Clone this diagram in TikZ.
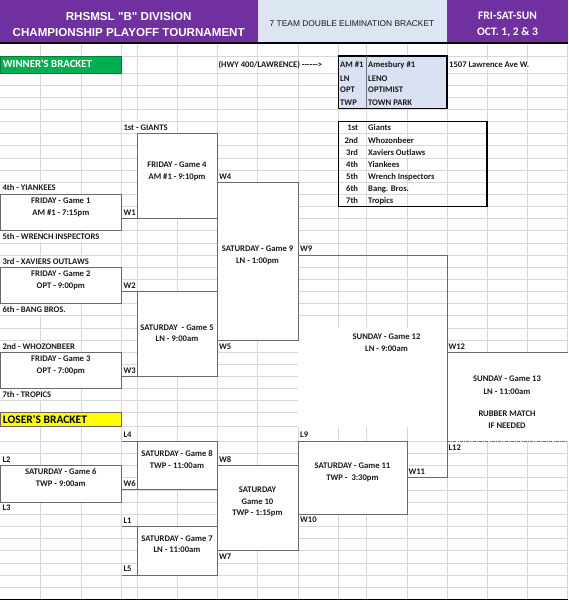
\documentclass[tikz,border=0pt]{standalone}
\usepackage{fontspec}
\setmainfont{Carlito}[Ligatures=TeXOff]
\newfontfamily\arialf{Liberation Sans}[Ligatures=TeXOff]
\definecolor{purp}{RGB}{112,48,160}
\definecolor{hblue}{RGB}{220,230,242}
\definecolor{vblue}{RGB}{217,225,242}
\definecolor{grn}{RGB}{0,176,80}
\definecolor{yel}{RGB}{255,255,0}
\definecolor{gridc}{RGB}{216,216,216}
\definecolor{boxc}{RGB}{105,105,105}
\definecolor{txtc}{RGB}{25,25,25}
\newcommand{\rT}[1]{133.6+12.14*(#1)}
\newcommand{\lT}[1]{441.3+12.15*(#1)}
\begin{document}
\begin{tikzpicture}[x=1pt,y=-1pt,
  gridln/.style={draw=gridc,line width=0.6pt},
  boxln/.style={draw=boxc,line width=0.9pt},
  cell/.style={inner sep=0pt,font=\bfseries\fontsize{8.6}{10}\selectfont,text=txtc,text height=7.5pt,text depth=2.2pt,fill=white},
  lab/.style={cell,anchor=west},
  ctr/.style={cell,anchor=center},
  plain/.style={inner sep=0pt,font=\bfseries\fontsize{8.6}{10}\selectfont,text=txtc,text height=5.5pt,text depth=0pt}
]
\useasboundingbox (0,0) rectangle (568,600);
\fill[white] (0,0) rectangle (568,600);
% grid
\foreach \x in {40.5,81,121.7,137,177,217,257.5,298,338.5,366,407,447,487,527,567}
  \draw[gridln] (\x,43) -- (\x,600);
\foreach \yy in {56,72.9,412.3,426.7}
  \draw[gridln] (0,\yy) -- (568,\yy);
\foreach \k in {-4,...,22}
  \draw[gridln] (0,{\rT{\k}}) -- (568,{\rT{\k}});
\foreach \k in {0,...,12}
  \draw[gridln] (0,{\lT{\k}}) -- (568,{\lT{\k}});
\draw[black,line width=1.2pt] (0,599.4) -- (568,599.4);
% header
\fill[purp] (0,0) rectangle (257.5,43);
\fill[hblue] (257.5,0) rectangle (447,43);
\fill[purp] (447,0) rectangle (568,43);
\draw[black,line width=1.3pt] (0,43) -- (568,43);
\node[font=\arialf\bfseries\fontsize{11.6}{14}\selectfont,text=white,inner sep=0pt,text height=8.3pt,text depth=0pt] (h1) at (128.7,16.3) {RHSMSL "B" DIVISION};
\node[font=\arialf\bfseries\fontsize{11.6}{14}\selectfont,text=white,inner sep=0pt,text height=8.3pt,text depth=0pt] (h2) at (128.7,31.9) {CHAMPIONSHIP PLAYOFF TOURNAMENT};
\node[font=\arialf\fontsize{8.4}{10}\selectfont,text=txtc,inner sep=0pt,text height=6pt,text depth=0pt] (h3) at (352,23.5) {7 TEAM DOUBLE ELIMINATION BRACKET};
\node[font=\bfseries\fontsize{11.5}{14}\selectfont,text=white,inner sep=0pt,text height=7.4pt,text depth=0pt] (h4) at (507.5,15.8) {FRI-SAT-SUN};
\node[font=\bfseries\fontsize{11.5}{14}\selectfont,text=white,inner sep=0pt,text height=7.4pt,text depth=0pt] (h5) at (507.5,31.8) {OCT. 1, 2 \& 3};
% section labels
\filldraw[fill=grn,draw=grn!70!black,line width=0.6pt] (0,56) rectangle (121.7,72.9);
\node[anchor=west,font=\bfseries\fontsize{10.8}{13}\selectfont,text=white,inner sep=0pt,text height=7pt,text depth=0pt] (wb) at (2.7,64.2) {WINNER'S BRACKET};
\filldraw[fill=yel,draw=black!60,line width=0.6pt] (0,412.3) rectangle (121.7,426.7);
\node[anchor=west,font=\bfseries\fontsize{11.5}{13}\selectfont,text=black,inner sep=0pt,text height=7.4pt,text depth=0pt] (lb) at (2.7,419.8) {LOSER'S BRACKET};
% venue box
\filldraw[fill=vblue,draw=black,line width=1.2pt] (338.5,56) rectangle (447,108.3);
\draw[black!55,line width=0.7pt] (366,56) -- (366,108.3);
\node[plain,anchor=west] (hwy) at (218.3,65) {(HWY 400/LAWRENCE) ------>};
\node[plain,anchor=west] (v1a) at (340,65) {AM \#1};
\node[plain,anchor=west] (v1b) at (368,65) {Amesbury \#1};
\node[plain,anchor=west] (v2a) at (340,78.3) {LN};
\node[plain,anchor=west] (v2b) at (368,78.3) {LENO};
\node[plain,anchor=west] (v3a) at (340,90.2) {OPT};
\node[plain,anchor=west] (v3b) at (368,90.2) {OPTIMIST};
\node[plain,anchor=west] (v4a) at (340,102.3) {TWP};
\node[plain,anchor=west] (v4b) at (368,102.3) {TOWN PARK};
\node[lab] (addr) at (449,65) {1507 Lawrence Ave W.};
% seeds
\foreach \n/\s/\t [count=\i from 0] in {s1/1st/Giants,s2/2nd/Whozonbeer,s3/3rd/Xaviers Outlaws,s4/4th/Yiankees,s5/5th/Wrench Inspectors,s6/6th/Bang. Bros.,s7/7th/Tropics}{
  \node[plain,anchor=east] (\n a) at (358.3,{\rT{\i-1}+6.07+0.7}) {\s};
  \node[plain,anchor=west] (\n b) at (368,{\rT{\i-1}+6.07+0.7}) {\t};
}
\draw[black,line width=1.2pt] (338.5,{\rT{-1}}) rectangle (487,{\rT{6}});
% box fills
\fill[white] (137,{\rT{0}}) rectangle (217,{\rT{7}});
\fill[white] (0,{\rT{5}}) rectangle (121.7,{\rT{8}});
\fill[white] (217,{\rT{4}}) rectangle (298,{\rT{17}});
\fill[white] (0,{\rT{11}}) rectangle (121.7,{\rT{14}});
\fill[white] (137,{\rT{13}}) rectangle (217,{\rT{20}});
\fill[white] (0,{\rT{18}}) rectangle (121.7,{\rT{21}});
\fill[white] (298,{\rT{16}}) rectangle (447,426.7);
\fill[white] (447,{\rT{18}}) rectangle (568,{\lT{0}});
\fill[white] (298,{\lT{0}}) rectangle (407,{\lT{6}});
\fill[white] (137,{\lT{0}}) rectangle (217,{\lT{4}});
\fill[white] (0,{\lT{2}}) rectangle (121.7,{\lT{5}});
\fill[white] (217,{\lT{2}}) rectangle (298,{\lT{9}});
\fill[white] (137,{\lT{7}}) rectangle (217,{\lT{11}});
% team and path labels
\node[lab] (t1) at (123.3,128.3) {1st - GIANTS};
\node[lab] (t4) at (2.3,188.3) {4th - YIANKEES};
\node[lab] (t5) at (2.3,237.3) {5th - WRENCH INSPECTORS};
\node[lab] (t3) at (2.3,261.7) {3rd - XAVIERS OUTLAWS};
\node[lab] (t6) at (2.3,310.3) {6th - BANG BROS.};
\node[lab] (t2) at (2.3,346.7) {2nd - WHOZONBEER};
\node[lab] (t7) at (2.3,395.3) {7th - TROPICS};
\node[lab] (w4) at (219,176.7) {W4};
\node[lab] (w1) at (123.3,213.3) {W1};
\node[lab] (w9) at (300,249.3) {W9};
\node[lab] (w2) at (123.3,286) {W2};
\node[lab] (w5) at (219,346.7) {W5};
\node[lab] (w3) at (123.3,371.3) {W3};
\node[lab] (w12) at (448.3,346.7) {W12};
\node[lab] (l4) at (123.3,435) {L4};
\node[lab] (l2) at (2.3,460) {L2};
\node[lab] (w8) at (219,460) {W8};
\node[lab] (w6) at (123.3,484) {W6};
\node[lab] (l3) at (2.3,508.3) {L3};
\node[lab] (l1) at (123.3,520.7) {L1};
\node[lab] (w10) at (300,520) {W10};
\node[lab] (w7) at (219,556.7) {W7};
\node[lab] (l5) at (123.3,569.3) {L5};
\node[lab] (l9) at (300,435) {L9};
\node[lab] (l12) at (448.3,448.3) {L12};
\node[lab] (w11) at (408.3,472.3) {W11};
% game texts
\node[ctr] (g4a) at (177,165) {FRIDAY - Game 4};
\node[ctr] (g4b) at (177,176.7) {AM \#1 - 9:10pm};
\node[ctr] (g1a) at (60.8,201) {FRIDAY - Game 1};
\node[ctr] (g1b) at (60.8,213) {AM \#1 - 7:15pm};
\node[ctr] (g2a) at (60.8,274) {FRIDAY - Game 2};
\node[ctr] (g2b) at (60.8,285.7) {OPT - 9:00pm};
\node[ctr] (g3a) at (60.8,358.7) {FRIDAY - Game 3};
\node[ctr] (g3b) at (60.8,370.7) {OPT - 7:00pm};
\node[ctr] (g5a) at (177,327.7) {SATURDAY \ - Game 5};
\node[ctr] (g5b) at (177,339.3) {LN - 9:00am};
\node[ctr] (g9a) at (257.5,249.3) {SATURDAY - Game 9};
\node[ctr] (g9b) at (257.5,261.3) {LN - 1:00pm};
\node[ctr] (g12a) at (386.5,337.3) {SUNDAY - Game 12};
\node[ctr] (g12b) at (386.5,348.8) {LN - 9:00am};
\node[ctr] (g13a) at (507,379.3) {SUNDAY - Game 13};
\node[ctr] (g13b) at (507,391.7) {LN - 11:00am};
\node[ctr] (g13c) at (507,414) {RUBBER MATCH};
\node[ctr] (g13d) at (507,426) {IF NEEDED};
\node[ctr] (g8a) at (177,454) {SATURDAY - Game 8};
\node[ctr] (g8b) at (177,465.7) {TWP - 11:00am};
\node[ctr] (g6a) at (60.8,472) {SATURDAY - Game 6};
\node[ctr] (g6b) at (60.8,483.7) {TWP - 9:00am};
\node[ctr] (g10a) at (257.5,490) {SATURDAY};
\node[ctr] (g10b) at (257.5,501.7) {Game 10};
\node[ctr] (g10c) at (257.5,513.3) {TWP - 1:15pm};
\node[ctr] (g7a) at (177,538.7) {SATURDAY - Game 7};
\node[ctr] (g7b) at (177,550.3) {LN - 11:00am};
\node[ctr] (g11a) at (352.5,466) {SATURDAY - Game 11};
\node[ctr] (g11b) at (352.5,478) {TWP - \ 3:30pm};
% box outlines
\draw[boxln] (137,{\rT{0}}) rectangle (217,{\rT{7}});
\draw[boxln] (121.7,{\rT{7}}) -- (137,{\rT{7}});
\draw[boxln] (0,{\rT{5}}) rectangle (121.7,{\rT{8}});
\draw[boxln] (217,{\rT{4}}) rectangle (298,{\rT{17}});
\draw[boxln] (0,{\rT{11}}) rectangle (121.7,{\rT{14}});
\draw[boxln] (121.7,{\rT{13}}) -- (137,{\rT{13}});
\draw[boxln] (137,{\rT{13}}) rectangle (217,{\rT{20}});
\draw[boxln] (121.7,{\rT{20}}) -- (137,{\rT{20}});
\draw[boxln] (0,{\rT{18}}) rectangle (121.7,{\rT{21}});
\draw[boxln] (298,{\rT{10}}) -- (447,{\rT{10}}) -- (447,{\lT{3}}) -- (407,{\lT{3}});
\draw[boxln] (447,{\rT{18}}) -- (568,{\rT{18}});
\draw[boxln,dash pattern=on 3pt off 1.2pt on 1pt off 1.2pt] (447,{\lT{0}}) -- (568,{\lT{0}});
\draw[boxln] (298,{\lT{0}}) rectangle (407,{\lT{6}});
\draw[boxln] (121.7,{\lT{0}}) -- (137,{\lT{0}});
\draw[boxln] (137,{\lT{0}}) rectangle (217,{\lT{4}});
\draw[boxln] (121.7,{\lT{4}}) -- (137,{\lT{4}});
\draw[boxln] (0,{\lT{2}}) rectangle (121.7,{\lT{5}});
\draw[boxln] (217,{\lT{2}}) rectangle (298,{\lT{9}});
\draw[boxln] (121.7,{\lT{7}}) -- (137,{\lT{7}});
\draw[boxln] (137,{\lT{7}}) rectangle (217,{\lT{11}});
\draw[boxln] (121.7,{\lT{11}}) -- (137,{\lT{11}});
\end{tikzpicture}
\end{document}
